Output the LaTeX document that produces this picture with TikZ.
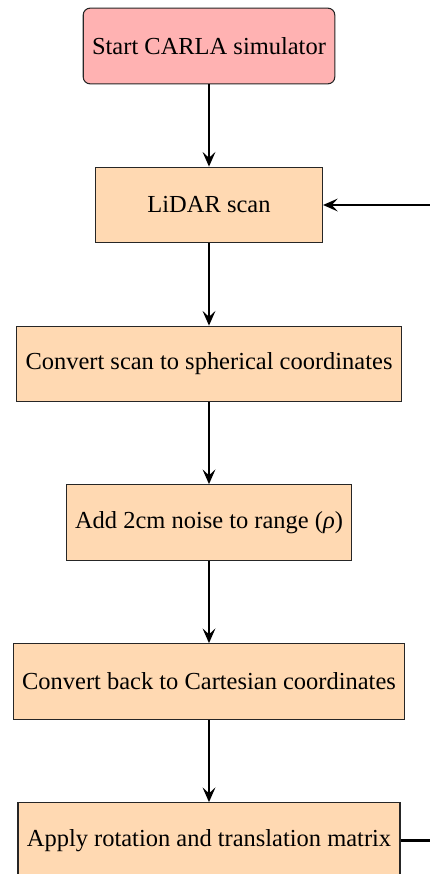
\documentclass[tikz,border=0pt]{standalone}
\usepackage{fontspec}
\setmainfont{Liberation Serif}
\usetikzlibrary{arrows.meta}
\tikzset{
  boxfont/.style={font=\fontsize{9.2}{11}\selectfont},
  startbox/.style={draw=black!85, fill=red!30, rounded corners=2.6pt,
    minimum width=3cm, minimum height=1cm, align=center, boxfont},
  procbox/.style={draw=black!85, fill=orange!30,
    minimum width=3cm, minimum height=1cm, align=center, boxfont},
  flow/.style={line width=0.8pt, -{Stealth[length=5.5pt,width=4.8pt,inset=2.2pt]}}
}
\begin{document}
\begin{tikzpicture}[x=0.37594pt, y=-0.37594pt]
  \useasboundingbox (0,0) rectangle (430,874);
  \clip (0,0) rectangle (430,874);
  \node[startbox] (start) at (209,46) {Start CARLA simulator};
  \node[procbox] (lidar) at (209,205) {LiDAR scan};
  \node[procbox] (sph) at (209,364) {Convert scan to spherical coordinates};
  \node[procbox] (noise) at (209,522.5) {Add 2cm noise to range ({\itshape ρ})};
  \node[procbox] (cart) at (209,681.5) {Convert back to Cartesian coordinates};
  \node[procbox] (apply) at (209,840.5) {Apply rotation and translation matrix};
  \draw[flow] (start) -- (lidar);
  \draw[flow] (lidar) -- (sph);
  \draw[flow] (sph) -- (noise);
  \draw[flow] (noise) -- (cart);
  \draw[flow] (cart) -- (apply);
  % loop back from the last step to the scan
  \coordinate (back) at (470,840.5);
  \draw[flow] (apply.east) -- (back) |- (lidar.east);
\end{tikzpicture}
\end{document}
